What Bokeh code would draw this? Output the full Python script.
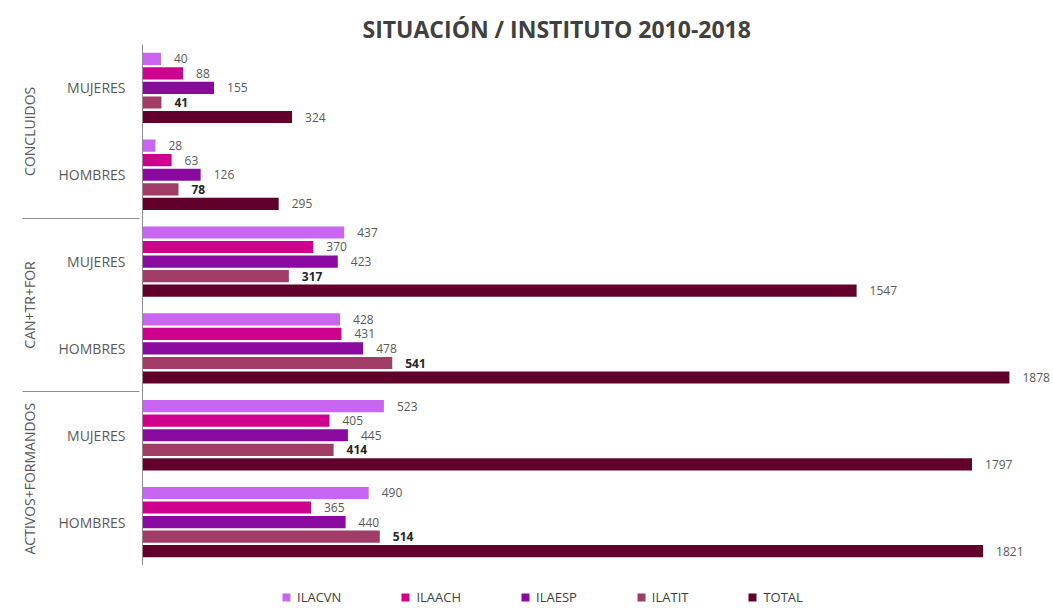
from bokeh.plotting import figure
from bokeh.layouts import column
from bokeh.models import ColumnDataSource, FactorRange, Legend, LegendItem, Range1d
from bokeh.transform import dodge
from bokeh.core.properties import value
from bokeh.embed import file_html
from bokeh.resources import INLINE

groups = ["CONCLUIDOS", "CAN+TR+FOR", "ACTIVOS+FORMANDOS"]
sexes = ["MUJERES", "HOMBRES"]
series = ["ILACVN", "ILAACH", "ILAESP", "ILATIT", "TOTAL"]
ILACVN = [40, 28, 437, 428, 523, 490]
ILAACH = [88, 63, 370, 431, 405, 365]
ILAESP = [155, 126, 423, 478, 445, 440]
ILATIT = [41, 78, 317, 541, 414, 514]
TOTAL = [324, 295, 1547, 1878, 1797, 1821]
colors = ["#c866f2", "#d0008e", "#8a0aa0", "#a03c66", "#62002c"]

cats = [(g, s) for g in groups for s in sexes]
data = dict(cat=cats)
vals = [ILACVN, ILAACH, ILAESP, ILATIT, TOTAL]
for name, v in zip(series, vals):
    data[name] = v
    data[name + "_t"] = [str(x) for x in v]
src = ColumnDataSource(data)

FONT = "Open Sans"
p = figure(width=1050, height=565, output_backend="svg", toolbar_location=None,
           y_range=FactorRange(factors=list(reversed(cats)), group_padding=0, range_padding=0),
           x_range=Range1d(0, 1967),
           min_border_left=142, min_border_right=0, min_border_top=44, min_border_bottom=0)

offsets = [0.335, 0.168, 0.0, -0.168, -0.335]
for i, name in enumerate(series):
    p.hbar(y=dodge("cat", offsets[i], range=p.y_range), right=name, left=0,
           height=0.14, color=colors[i], line_color=None, source=src)
    bold = name == "ILATIT"
    p.text(x=name, y=dodge("cat", offsets[i], range=p.y_range), text=name + "_t",
           source=src, x_offset=13, text_baseline="middle", text_align="left",
           text_font=value(FONT), text_font_size="12px",
           text_font_style="bold" if bold else "normal",
           text_color="#262626" if bold else "#595959")

p.title.text = "SITUACIÓN / INSTITUTO 2010-2018"
p.title.align = "left"
p.title.offset = 220
p.title.standoff = 0
p.title.text_font = FONT
p.title.text_font_size = "23px"
p.title.text_font_style = "bold"
p.title.text_color = "#404040"

p.xaxis.visible = False
p.xgrid.visible = False
p.ygrid.visible = False
p.outline_line_color = None

ax = p.yaxis[0]
ax.major_tick_line_color = None
ax.minor_tick_line_color = None
ax.major_tick_out = 0
ax.major_tick_in = 0
ax.axis_line_color = "#8c8c8c"
ax.major_label_text_font = FONT
ax.major_label_text_font_size = "14px"
ax.major_label_text_color = "#595959"
ax.group_text_font = FONT
ax.group_text_font_size = "14px"
ax.group_text_font_style = "normal"
ax.group_text_color = "#595959"
ax.separator_line_color = "#8c8c8c"
ax.separator_line_width = 1
ax.major_label_standoff = 17

# legend strip (its renderers are hidden; they only lend their look to the legend)
lf = figure(width=1050, height=42, output_backend="svg", toolbar_location=None,
            x_range=Range1d(0, 1), y_range=FactorRange(factors=cats),
            min_border=0)
lf.axis.visible = False
lf.grid.visible = False
lf.outline_line_color = None
items = []
for i, name in enumerate(series):
    r = lf.hbar(y="cat", right=name, left=0, height=0.5, color=colors[i],
                line_color=None, source=src, visible=False)
    items.append(LegendItem(label=name, renderers=[r]))
legend = Legend(items=items, orientation="horizontal", location=(139, 1),
                glyph_width=10, glyph_height=10, label_standoff=6, spacing=59,
                label_height=13, label_text_baseline="middle",
                label_text_font=FONT, label_text_font_size="13px",
                label_text_color="#404040", border_line_color=None,
                background_fill_alpha=0, padding=0, margin=0, click_policy="none")
lf.add_layout(legend, "center")

layout = column(p, lf, spacing=0)
open("out.html", "w").write(file_html(layout, INLINE))
